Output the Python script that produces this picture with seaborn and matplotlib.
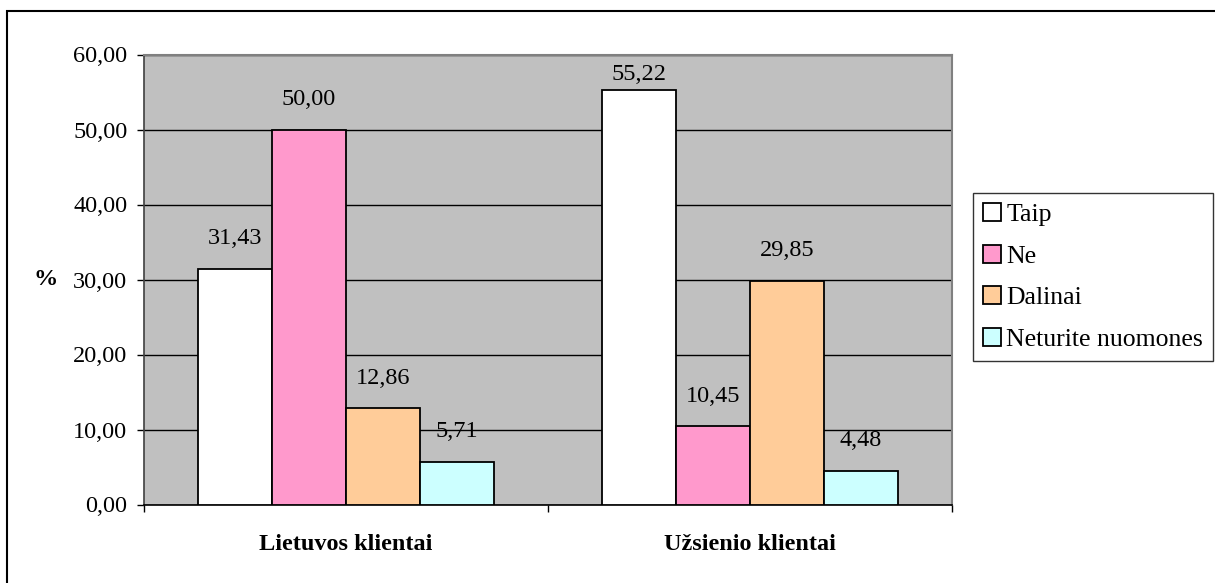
import matplotlib
matplotlib.use("Agg")
import matplotlib.pyplot as plt
import matplotlib.patches as mpatches
import seaborn as sns
import pandas as pd
import numpy as np

categories = ["Lietuvos klientai", "Užsienio klientai"]
series = ["Taip", "Ne", "Dalinai", "Neturite nuomones"]
values_taip = [31.43, 55.22]
values_ne = [50.00, 10.45]
values_dalinai = [12.86, 29.85]
values_neturite = [5.71, 4.48]
yticks = [0, 10, 20, 30, 40, 50, 60]
colors = ["#FFFFFF", "#FF99CC", "#FFCC99", "#CCFFFF"]

rows = []
for s, vals in zip(series, [values_taip, values_ne, values_dalinai, values_neturite]):
    for c, v in zip(categories, vals):
        rows.append({"cat": c, "series": s, "value": v})
df = pd.DataFrame(rows)

sns.set_theme(style="white")
plt.rcParams["font.family"] = ["Liberation Serif", "DejaVu Serif"]
plt.rcParams["text.color"] = "black"
plt.rcParams["axes.labelcolor"] = "black"
plt.rcParams["xtick.color"] = "black"
plt.rcParams["ytick.color"] = "black"

FS = 17.5
W, H = 1215, 583
fig = plt.figure(figsize=(W / 100, H / 100), dpi=100)
ax = fig.add_axes([144 / W, (H - 504.5) / H, 808 / W, 450 / H])
ax.set_facecolor("#C0C0C0")

sns.barplot(data=df, x="cat", y="value", hue="series", order=categories,
            hue_order=series, palette=colors, saturation=1, width=0.733, gap=0,
            edgecolor="black", linewidth=1.3, ax=ax, legend=False, zorder=3)

ax.set_ylim(0, 60)
ax.set_xlim(-0.5, 1.5)
ax.set_yticks(yticks)
ax.set_yticklabels([f"{t:.2f}".replace(".", ",") for t in yticks], fontsize=FS)
ax.yaxis.grid(True, color="black", linewidth=1.0, zorder=1)
ax.set_axisbelow(True)
ax.tick_params(axis="y", direction="out", length=5, width=1, color="black",
               labelcolor="black", left=True, pad=7)
ax.set_xticks([0, 1])
ax.set_xticklabels(categories, fontsize=FS, fontweight="bold")
ax.tick_params(axis="x", which="major", length=0, pad=21, labelcolor="black")
ax.set_xticks([-0.5, 0.5, 1.5], minor=True)
ax.tick_params(axis="x", which="minor", direction="out", length=5, width=1,
               color="black", bottom=True)
ax.set_xlabel("")
ax.set_ylabel("%", rotation=0, fontsize=FS, fontweight="bold", va="center",
              color="black")
ax.yaxis.set_label_coords((46 - 144) / 808, 0.5)

for sp in ["top", "right"]:
    ax.spines[sp].set_color("#808080")
    ax.spines[sp].set_linewidth(1.5)
ax.spines["left"].set_color("#404040")
ax.spines["bottom"].set_color("black")
for sp in ["left", "bottom"]:
    ax.spines[sp].set_linewidth(1.2)

for cont in ax.containers:
    for bar in cont:
        v = bar.get_height()
        xc = bar.get_x() + bar.get_width() / 2
        ypos = min(v + 4.0, 57.3)
        ax.text(xc, ypos, f"{v:.2f}".replace(".", ","), ha="center",
                va="center", fontsize=FS, color="black", zorder=5)

handles = [mpatches.Patch(facecolor=c, edgecolor="black", linewidth=1.3, label=s)
           for c, s in zip(colors, series)]
leg = fig.legend(handles=handles, loc="upper left",
                 bbox_to_anchor=(973 / W, 1 - 193 / H), frameon=True,
                 fancybox=False, fontsize=18.5, handlelength=0.7,
                 handleheight=0.7, handletextpad=0.2, labelspacing=0.72,
                 borderpad=0.4, borderaxespad=0, labelcolor="black")
leg.get_frame().set_edgecolor("black")
leg.get_frame().set_linewidth(1.0)

border = mpatches.Rectangle((7 / W, -0.1), 1.2, 1 - 11 / H + 0.1,
                            transform=fig.transFigure, fill=False,
                            edgecolor="black", linewidth=1.5, clip_on=False)
fig.patches.append(border)

fig.savefig("out.png", dpi=100, facecolor="white")
